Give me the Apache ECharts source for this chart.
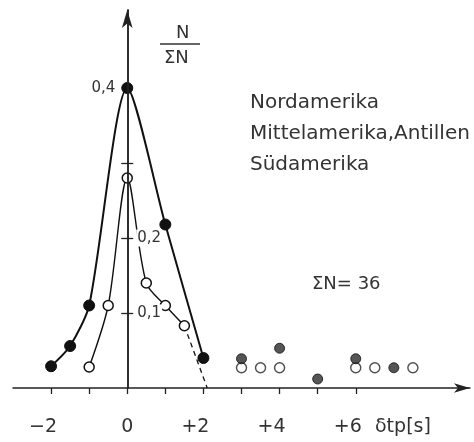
<!DOCTYPE html>
<html>
<head>
<meta charset="utf-8">
<script src="https://cdn.jsdelivr.net/npm/echarts@6/dist/echarts.min.js"></script>
<style>html,body{margin:0;padding:0;background:#fff}#c{width:474px;height:442px}</style>
</head>
<body>
<div id="c"></div>
<script>
// Nordamerika (filled circles, solid line)
const nordX = [-2, -1.5, -1, 0, 1, 2];
const nordY = [0.029, 0.056, 0.11, 0.4, 0.218, 0.04];
// Mittelamerika, Antillen (open circles, thin line)
const mittelX = [-1, -0.5, 0, 0.5, 1, 1.5];
const mittelY = [0.028, 0.11, 0.28, 0.14, 0.11, 0.083];
// dashed continuation of Mittelamerika curve to zero
const mittelTailX = [1.5, 2.1];
const mittelTailY = [0.083, 0];
// isolated open circles
const mittelScatterX = [3, 3.5, 4, 6, 6.5, 7.5];
const mittelScatterY = [0.027, 0.027, 0.027, 0.027, 0.027, 0.027];
// Südamerika (shaded circles)
const suedX = [3, 4, 5, 6, 7];
const suedY = [0.039, 0.053, 0.012, 0.039, 0.027];
// axis ticks / labels
const xTicks = [-2, -1, 0, 1, 2, 3, 4, 5, 6];
const xLabels = [-2, 0, 2, 4, 6];
const yTicks = [0.1, 0.2, 0.3];
const yLabelsRight = [0.1, 0.2];
const yLabelsLeft = [0.4];
const legendNames = ['Nordamerika', 'Mittelamerika,Antillen', 'Südamerika'];

const pts = (xs, ys) => xs.map((x, i) => [x, ys[i]]);
const INK = '#222';
const FONT = 'DejaVu Sans';
const GRID_L = 13, GRID_R = 4, X_MIN = -3, X_MAX = 9;
const plotW = 474 - GRID_L - GRID_R;
const zeroPx = plotW * (0 - X_MIN) / (X_MAX - X_MIN); // distance of x=0 from grid left

const chart = echarts.init(document.getElementById('c'));
chart.setOption({
  animation: false,
  backgroundColor: '#fff',
  grid: { left: GRID_L, right: GRID_R, top: 10, bottom: 54, containLabel: false, outerBoundsMode: 'none' },
  legend: {
    data: legendNames,
    icon: 'none',
    itemWidth: 0, itemHeight: 0,
    orient: 'vertical',
    left: 240, top: 86,
    itemGap: 7,
    selectedMode: false,
    textStyle: { fontFamily: FONT, fontSize: 20, color: '#333', lineHeight: 24 }
  },
  xAxis: {
    type: 'value', min: X_MIN, max: X_MAX,
    axisLine: { onZero: false, lineStyle: { color: INK, width: 1.5 }, symbol: ['none', 'arrow'], symbolSize: [7, 16] },
    axisTick: { show: true, customValues: xTicks, length: 6, lineStyle: { color: INK, width: 1.3 } },
    axisLabel: {
      customValues: xLabels, margin: 30, color: '#333', fontFamily: FONT, fontSize: 19,
      formatter: v => v === 0 ? '{d|0}' : (v > 0 ? '{d|+' + v + '}{p|\u00a0}' : '{d|\u2212' + Math.abs(v) + '}{p|\u00a0}'),
      rich: { d: { fontFamily: FONT, fontSize: 19, color: '#333' }, p: { width: 16, fontSize: 19 } }
    },
    splitLine: { show: false }
  },
  yAxis: [
    {
      type: 'value', min: 0, max: 0.504, position: 'left', offset: -zeroPx, z: 10,
      axisLine: { onZero: false, lineStyle: { color: INK, width: 1.5 }, symbol: ['none', 'arrow'], symbolSize: [8, 18] },
      axisTick: { show: true, customValues: yTicks, length: 6, lineStyle: { color: INK, width: 1.3 } },
      axisLabel: {
        customValues: yLabelsLeft, margin: 12, color: '#333', fontFamily: FONT, fontSize: 15,
        formatter: v => v.toFixed(1).replace('.', ',')
      },
      splitLine: { show: false }
    },
    {
      type: 'value', min: 0, max: 0.504, position: 'right', offset: -(plotW - zeroPx), z: 10,
      axisLine: { onZero: false, show: true, lineStyle: { color: INK, width: 1.5 } },
      axisTick: { show: true, customValues: yTicks, length: 6, lineStyle: { color: INK, width: 1.3 } },
      axisLabel: {
        customValues: yLabelsRight, margin: 9, color: '#333', fontFamily: FONT, fontSize: 15,
        backgroundColor: '#fff', padding: [1, 1],
        formatter: v => v.toFixed(1).replace('.', ',')
      },
      splitLine: { show: false }
    }
  ],
  graphic: [
    { type: 'text', left: 176, top: 24, style: { text: 'N', font: '18px "DejaVu Sans"', fill: '#333' } },
    { type: 'line', shape: { x1: 160, y1: 44, x2: 200, y2: 44 }, style: { stroke: '#333', lineWidth: 1.5 } },
    { type: 'text', left: 164, top: 49, style: { text: 'ΣN', font: '18px "DejaVu Sans"', fill: '#333' } },
    { type: 'text', left: 312, top: 275, style: { text: 'ΣN= 36', font: '18px "DejaVu Sans"', fill: '#333' } },
    { type: 'text', left: 375, top: 418, style: { text: 'δtp[s]', font: '19px "DejaVu Sans"', fill: '#333' } }
  ],
  series: [
    {
      name: 'Nordamerika', type: 'line', smooth: 0.25, z: 3,
      data: pts(nordX, nordY),
      symbol: 'circle', symbolSize: 11,
      itemStyle: { color: '#111', borderColor: '#111' },
      lineStyle: { color: '#111', width: 2 }
    },
    {
      name: 'Mittelamerika,Antillen', type: 'line', smooth: 0.3, z: 4,
      data: pts(mittelX, mittelY),
      symbol: 'circle', symbolSize: 10,
      itemStyle: { color: '#fff', borderColor: '#111', borderWidth: 1.5 },
      lineStyle: { color: '#111', width: 1.4 }
    },
    {
      name: 'Mittelamerika,Antillen', type: 'line', z: 2,
      data: pts(mittelTailX, mittelTailY),
      symbol: 'none',
      lineStyle: { color: '#111', width: 1.3, type: [5, 4] }
    },
    {
      name: 'Mittelamerika,Antillen', type: 'scatter', z: 4,
      data: pts(mittelScatterX, mittelScatterY),
      symbol: 'circle', symbolSize: 10,
      itemStyle: { color: '#fff', borderColor: '#222', borderWidth: 1.4 }
    },
    {
      name: 'Südamerika', type: 'scatter', z: 5,
      data: pts(suedX, suedY),
      symbol: 'circle', symbolSize: 10,
      itemStyle: { color: '#2a2a2a', borderColor: '#111', borderWidth: 1 }
    }
  ]
});
</script>
</body>
</html>
